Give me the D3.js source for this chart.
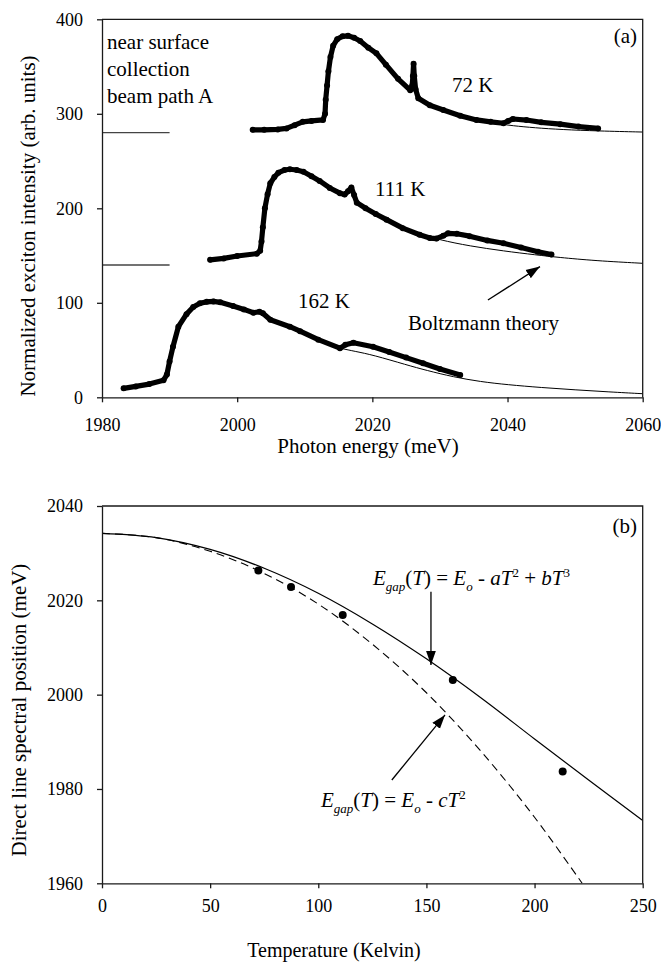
<!DOCTYPE html>
<html>
<head>
<meta charset="utf-8">
<script src="https://cdn.jsdelivr.net/npm/d3@7"></script>
<style>
  body { margin: 0; background: #fff; }
</style>
</head>
<body>
<div id="grafica"></div>
<script>
// ---- panel (a): espectros (energia meV, intensidad) ----
var espectro72 = [[2002.3, 283], [2004, 283], [2006, 283.5], [2007.3, 284.5], [2008.5, 288], [2009.7, 291.5],
  [2011, 292.5], [2012.7, 293.5], [2013.0, 300], [2013.1, 315], [2013.3, 330], [2013.5, 345], [2013.8, 360],
  [2014.2, 372], [2014.8, 379], [2015.6, 382], [2016.4, 382.5], [2017.3, 380.5], [2018.2, 377], [2019.4, 370],
  [2020.6, 364], [2022, 352], [2023.8, 337], [2025.6, 325], [2025.9, 330], [2026.0, 340], [2026.1, 353],
  [2026.2, 340], [2026.4, 326], [2026.8, 316.5], [2028.5, 309], [2030.5, 304], [2033, 298], [2035.4, 293.5],
  [2037.5, 291.5], [2039.4, 290], [2040.1, 292.5], [2040.8, 294.5], [2042.8, 293.4], [2045, 291], [2047.8, 289],
  [2050.5, 286.5], [2053.4, 284.5]];
var espectro111 = [[1996.0, 145.5], [1998, 147], [2000, 149.5], [2002.9, 152], [2003.4, 155], [2003.6, 165],
  [2003.8, 180], [2004.1, 200], [2004.5, 215], [2004.9, 226.5], [2005.5, 233], [2006.1, 237.7], [2007, 240.5],
  [2007.8, 241.3], [2008.8, 240.5], [2009.8, 238.7], [2011, 234], [2012.2, 229], [2013.7, 221.5], [2015.2, 216],
  [2015.9, 214.5], [2016.4, 218], [2016.9, 222], [2017.3, 214], [2017.7, 206], [2019, 200], [2020.5, 194],
  [2022.1, 188], [2024.5, 179], [2027.0, 172], [2028.5, 168.5], [2029.5, 168], [2030.5, 171], [2031.2, 173.5],
  [2032.5, 173], [2034.4, 170.5], [2037, 166], [2039.4, 163], [2042, 158.5], [2044.5, 154], [2046.5, 151]];
var espectro162 = [[1983.2, 9.5], [1985, 11.5], [1987, 14], [1989.1, 18], [1989.6, 24], [1990.0, 38],
  [1990.5, 53.5], [1991.3, 74.7], [1992.5, 88], [1993.5, 95.5], [1994.5, 99.5], [1995.5, 101], [1996.5, 101.5],
  [1997.5, 100.5], [1999.4, 96.5], [2001, 93], [2002.4, 89.5], [2003.3, 90.5], [2003.8, 89], [2004.9, 82],
  [2007.8, 74.7], [2009.3, 70], [2012, 61], [2015.2, 52], [2016, 55.5], [2017.2, 57.8], [2020.1, 53.5],
  [2022.5, 48], [2025, 42], [2027.5, 36], [2030, 30], [2033.0, 23.6]];

// curvas de Boltzmann
var teoria72 = [[2026.5, 318], [2028, 311], [2030.5, 303.5], [2033, 298], [2035.4, 293.5], [2038, 290],
  [2040.8, 287.3], [2044, 285.2], [2048, 283.3], [2053.4, 281.8], [2060, 280.7]];
var teoria111 = [[2017.7, 206], [2022, 189], [2026, 175], [2030, 166.4], [2034.4, 160.1], [2039.4, 154.8],
  [2044.3, 150.6], [2047.5, 148.1], [2053, 144.5], [2060, 141.8]];
var teoria162 = [[2015.2, 52], [2017.5, 48.5], [2020.1, 44.8], [2025.1, 34.2], [2028, 28.5], [2032, 21.5],
  [2036, 16.5], [2040, 13.3], [2045, 10.3], [2050, 7.9], [2055, 5.7], [2060, 3.8]];

// lineas base a la izquierda
var lineasBase = [280, 140];

var ticksEnergia = [1980, 2000, 2020, 2040, 2060];
var ticksIntensidad = [0, 100, 200, 300, 400];

// ---- panel (b): posicion espectral vs temperatura ----
var temperaturas = [72.3, 87.4, 111.3, 162.2, 213.0];
var posiciones = [2026.3, 2022.8, 2016.9, 2003.1, 1983.7];

var curvaT = [0, 25, 50, 75, 100, 125, 150, 175, 200, 225, 250];
var curvaCubica = [2034.2, 2033.3, 2030.8, 2026.8, 2021.5, 2015.0, 2007.6, 1999.4, 1990.6, 1981.9, 1973.3];
var curvaCuadT = [0, 25, 50, 75, 100, 125, 150, 175, 200, 222];
var curvaCuadratica = [2034.2, 2033.3, 2030.4, 2025.7, 2019.2, 2010.7, 2000.4, 1988.1, 1974.0, 1960.0];

var ticksTemp = [0, 50, 100, 150, 200, 250];
var ticksPos = [1960, 1980, 2000, 2020, 2040];

var w = 661, h = 963;
var fuente = "Times New Roman";

var svg = d3.select('#grafica')
  .append('svg')
  .attr("width", w)
  .attr("height", h);

var defs = svg.append("defs");
defs.append("marker")
  .attr("id", "flecha")
  .attr("viewBox", "0 0 10 10")
  .attr("refX", 10).attr("refY", 5)
  .attr("markerWidth", 14).attr("markerHeight", 14)
  .attr("markerUnits", "userSpaceOnUse")
  .attr("orient", "auto")
  .append("path")
  .attr("d", "M0,1.5 L10,5 L0,8.5 Z")
  .attr("fill", "#000");

function ejes(g, x, y, tx, ty, despX) {
  var ax = g.append("g")
    .attr("transform", "translate(0," + y.range()[0] + ")")
    .call(d3.axisBottom(x).tickValues(tx).tickFormat(d3.format("d")).tickSize(5).tickSizeOuter(0));
  ax.selectAll("text").attr("y", despX).attr("dy", null);
  var ay = g.append("g")
    .attr("transform", "translate(" + x.range()[0] + ",0)")
    .call(d3.axisLeft(y).tickValues(ty).tickFormat(d3.format("d")).tickSize(5).tickPadding(14).tickSizeOuter(0));
  [ax, ay].forEach(function (a) {
    a.attr("font-family", fuente).attr("font-size", 18);
    a.selectAll("text").attr("font-family", fuente).attr("font-size", 18).attr("fill", "#000");
    a.selectAll("path, line").attr("stroke", "#1a1a1a").attr("stroke-width", 1.3);
  });
  // caja
  g.append("path")
    .attr("d", "M" + x.range()[0] + "," + y.range()[1] + "H" + x.range()[1] + "V" + y.range()[0])
    .attr("fill", "none").attr("stroke", "#1a1a1a").attr("stroke-width", 1.3);
}

function texto(g, x, y, t, size, extra) {
  var el = g.append("text").attr("x", x).attr("y", y)
    .attr("font-family", fuente).attr("font-size", size).attr("fill", "#000").text(t);
  if (extra) extra(el);
  return el;
}

// ================= panel (a) =================
var xA = d3.scaleLinear().domain([1980, 2060]).range([102, 642.7]);
var yA = d3.scaleLinear().domain([0, 400]).range([397.3, 19.3]);
var gA = svg.append("g");

gA.selectAll("line.base")
  .data(lineasBase)
  .enter()
  .append("line")
  .attr("x1", xA(1980)).attr("x2", xA(1990))
  .attr("y1", function (d) { return yA(d); })
  .attr("y2", function (d) { return yA(d); })
  .attr("stroke", "#444").attr("stroke-width", 1.3);

var lineaA = d3.line().x(function (d) { return xA(d[0]); }).y(function (d) { return yA(d[1]); });
var lineaSuave = d3.line().curve(d3.curveBasis)
  .x(function (d) { return xA(d[0]); }).y(function (d) { return yA(d[1]); });

[teoria72, teoria111, teoria162].forEach(function (t) {
  gA.append("path").attr("d", lineaSuave(t))
    .attr("fill", "none").attr("stroke", "#000").attr("stroke-width", 1);
});

[espectro72, espectro111, espectro162].forEach(function (s) {
  gA.append("path").attr("d", lineaA(s))
    .attr("fill", "none").attr("stroke", "#000").attr("stroke-width", 5.2)
    .attr("stroke-linejoin", "round").attr("stroke-linecap", "round");
  gA.selectAll(null)
    .data(s)
    .enter()
    .append("circle")
    .attr("cx", function (d) { return xA(d[0]); })
    .attr("cy", function (d) { return yA(d[1]); })
    .attr("r", 3)
    .attr("fill", "#000");
});

ejes(gA, xA, yA, ticksEnergia, ticksIntensidad, 34);

texto(gA, 107, 49, "near surface", 21);
texto(gA, 107, 76, "collection", 21);
texto(gA, 107, 103, "beam path A", 21);
texto(gA, 637, 43, "(a)", 21, function (e) { e.attr("text-anchor", "end"); });
texto(gA, 452, 92, "72 K", 21);
texto(gA, 375, 196, "111 K", 21);
texto(gA, 298, 308, "162 K", 21);
texto(gA, 408, 330, "Boltzmann theory", 21);

gA.append("line")
  .attr("x1", xA(2037.1)).attr("y1", yA(102.9))
  .attr("x2", xA(2044.8)).attr("y2", yA(138.3))
  .attr("stroke", "#000").attr("stroke-width", 1.3)
  .attr("marker-end", "url(#flecha)");

texto(gA, 368, 453, "Photon energy (meV)", 21, function (e) { e.attr("text-anchor", "middle"); });
texto(gA, 0, 0, "Normalized exciton intensity (arb. units)", 21, function (e) {
  e.attr("text-anchor", "middle").attr("transform", "translate(35,226) rotate(-90)");
});

// ================= panel (b) =================
var xB = d3.scaleLinear().domain([0, 250]).range([102, 642.7]);
var yB = d3.scaleLinear().domain([1960, 2040]).range([883.3, 506]);
var gB = svg.append("g");

var lineaB = d3.line().curve(d3.curveCatmullRom)
  .x(function (d) { return xB(d[0]); }).y(function (d) { return yB(d[1]); });

gB.append("path")
  .attr("d", lineaB(curvaT.map(function (t, i) { return [t, curvaCubica[i]]; })))
  .attr("fill", "none").attr("stroke", "#000").attr("stroke-width", 1.2);
gB.append("path")
  .attr("d", lineaB(curvaCuadT.map(function (t, i) { return [t, curvaCuadratica[i]]; })))
  .attr("fill", "none").attr("stroke", "#000").attr("stroke-width", 1.1)
  .attr("stroke-dasharray", "8,5");

gB.selectAll("circle")
  .data(temperaturas)
  .enter()
  .append("circle")
  .attr("cx", function (d) { return xB(d); })
  .attr("cy", function (d, i) { return yB(posiciones[i]); })
  .attr("r", 4)
  .attr("fill", "#000");

ejes(gB, xB, yB, ticksTemp, ticksPos, 28.3);

texto(gB, 637, 533, "(b)", 21, function (e) { e.attr("text-anchor", "end"); });

function ecuacion(x, y, piezas) {
  var t = gB.append("text").attr("x", x).attr("y", y)
    .attr("font-family", fuente).attr("font-size", 21).attr("fill", "#000");
  var actual = 0;
  piezas.forEach(function (p) {
    var desp = p.sub ? 6 : (p.sup ? -8 : 0);
    t.append("tspan")
      .attr("dy", desp - actual)
      .attr("font-family", fuente)
      .attr("font-style", p.it ? "italic" : "normal")
      .attr("font-size", (p.sub || p.sup) ? 13 : 21)
      .text(p.t);
    actual = desp;
  });
}

ecuacion(373, 585, [
  { t: "E", it: 1 }, { t: "gap", it: 1, sub: 1 }, { t: "(" }, { t: "T", it: 1 }, { t: ") = " },
  { t: "E", it: 1 }, { t: "o", it: 1, sub: 1 }, { t: " - " }, { t: "aT", it: 1 }, { t: "2", sup: 1 },
  { t: " + " }, { t: "bT", it: 1 }, { t: "3", sup: 1 }
]);
ecuacion(321, 807, [
  { t: "E", it: 1 }, { t: "gap", it: 1, sub: 1 }, { t: "(" }, { t: "T", it: 1 }, { t: ") = " },
  { t: "E", it: 1 }, { t: "o", it: 1, sub: 1 }, { t: " - " }, { t: "cT", it: 1 }, { t: "2", sup: 1 }
]);

gB.append("line")
  .attr("x1", xB(152.1)).attr("y1", yB(2021.8))
  .attr("x2", xB(152.1)).attr("y2", yB(2006.3))
  .attr("stroke", "#000").attr("stroke-width", 1.3)
  .attr("marker-end", "url(#flecha)");
gB.append("line")
  .attr("x1", xB(134.0)).attr("y1", yB(1981.9))
  .attr("x2", xB(158.6)).attr("y2", yB(1995.7))
  .attr("stroke", "#000").attr("stroke-width", 1.3)
  .attr("marker-end", "url(#flecha)");

texto(gB, 334, 957, "Temperature (Kelvin)", 20, function (e) { e.attr("text-anchor", "middle"); });
texto(gB, 0, 0, "Direct line spectral position (meV)", 21, function (e) {
  e.attr("text-anchor", "middle").attr("transform", "translate(26,710) rotate(-90)");
});
</script>
</body>
</html>
